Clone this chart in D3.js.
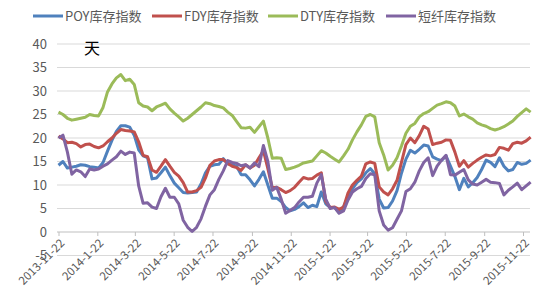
<!DOCTYPE html>
<html>
<head>
<meta charset="utf-8">
<script src="https://d3js.org/d3.v7.min.js"></script>
<style>
  body { margin: 0; background: #fff; }
  text { font-family: "Noto Sans CJK SC", "Noto Sans", sans-serif; fill: #595959; }
</style>
</head>
<body>
<svg width="550" height="300"></svg>
<script>
// weekly data, first week 2013-11-22
var startDate = "2013-11-22";
var tickLabels = ["2013-11-22","2014-1-22","2014-3-22","2014-5-22","2014-7-22","2014-9-22",
  "2014-11-22","2015-1-22","2015-3-22","2015-5-22","2015-7-22","2015-9-22","2015-11-22"];
var yTicks = [-5,0,5,10,15,20,25,30,35,40];

var seriesNames = ["POY库存指数","FDY库存指数","DTY库存指数","短纤库存指数"];
var colors = ["#4f81bd","#c0504d","#9bbb59","#8064a2"];

var poy = [14.2,15,13.6,13.8,14,14.3,14.2,13.9,13.8,13.6,14.8,17.2,19.5,21.4,22.6,22.6,22.3,20.6,17.5,16.2,
  15.8,11.3,11.5,12.6,13.8,12,10.4,9.4,8.4,8.3,8.4,8.5,10.2,12.6,14,14.3,14.4,15.6,14.5,14.3,
  14,12.2,12.2,11.1,9.8,11.2,12.8,10,7.2,7.2,6.5,5.2,4.5,4.8,5.4,6.2,5.2,5.7,5.4,8.5,
  6,5.2,5.2,4.1,5.4,7.5,9.2,10.5,11.3,12.6,13.5,12.4,7,5.1,5.2,6.6,8.8,12.5,15.5,17.4,
  16.8,17.6,18.5,18.3,16,15.5,15.2,16.2,14,11.8,9,11.4,9.6,10.5,11.6,13.3,15.3,14.8,13.9,15.8,
  14,13,13.3,14.8,14.4,14.6,15.3];
var fdy = [20.4,19.8,19,19.1,18.8,18.1,18.6,18.7,18.2,17.9,18.3,19.2,20,21,21.8,21.6,21.5,21.3,19.2,16.3,
  16,13.2,12.7,14,15.4,14,12.7,11.9,10.5,8.5,8.5,8.8,9.5,11.5,14.2,15.1,15.4,15.4,14.6,14,
  13.7,13.1,14.3,13.6,14.2,15.8,17.3,13.5,9.4,9.5,9,8.4,8.8,9.5,10.6,11.6,11.3,11.4,12.1,12.6,
  6.5,5.2,5.3,4.8,5.3,8.3,10,11,11.9,14.5,14.9,14.6,9.6,8.5,7.9,9.2,11,14.8,18.6,20,
  19,20.5,22.5,21.9,18.6,18.9,19.1,19.6,19.5,17,14,15.2,13.8,14.6,15.3,15.9,16.4,16.2,16.5,18,
  17.8,17.4,18.8,19.1,18.9,19.4,20.2];
var dty = [25.5,25,24.2,23.8,24,24.2,24.4,25,24.8,24.7,26.5,29.8,31.5,32.8,33.5,32.2,32.5,31.4,27.5,26.8,
  26.6,25.8,26.6,27,27.4,26.2,25.3,24.5,23.6,24.2,25,25.8,26.6,27.5,27.3,26.9,26.7,26.4,25.5,24.8,
  23.5,22.2,22.1,22.3,21.2,22.4,23.6,20,15.7,15.8,15.7,13.3,13.5,13.8,14.2,14.7,14.9,15.1,16.2,17.3,
  16.8,16.1,15.5,14.9,16.2,17.6,19.6,21.3,22.8,24.6,25,24.5,19,16.4,13.2,14.2,15.8,18.3,21,22.5,
  23.1,24.5,25.2,25.6,26.3,27,27.3,27.7,27.5,26.8,24.7,25.1,24.5,24,23.2,22.8,22.5,22,21.7,22,
  22.4,23,23.6,24.6,25.4,26.2,25.5];
var psf = [20,20.6,17,12.3,13.2,12.8,11.8,13.4,13.2,13.4,14,14.5,15.3,16,17.2,16.5,17,16.8,9.8,6.1,
  6.2,5.3,5,7.5,9.3,7.4,7.4,6,2.5,1,0.1,1,2.8,5.5,7.9,9,11.2,13,15.2,14.8,
  14.6,14.1,14.3,13.6,14.7,13.9,18.4,15,8.9,9.5,7,4,4.6,5.2,6.4,7.4,7.4,7.6,10.4,12.2,
  7,5,5.2,4,4.5,6.8,8.5,9.2,9.7,11.4,12.4,12.2,4.5,1.5,0.4,0.9,2.7,4.5,8.6,9.2,
  10.6,13,14.8,15.8,12,14,15.3,16.3,12.2,12.1,12.7,13.3,11.1,10.2,10,10.6,11.2,10.6,10.5,10.3,
  7.9,8.9,9.6,10.4,9,9.8,10.6];

var series = [poy, fdy, dty, psf];

var parse = d3.timeParse("%Y-%m-%d");
var t0 = parse(startDate);
var dates = poy.map(function(d, i){ return d3.timeDay.offset(t0, 7 * i); });
var tickDates = tickLabels.map(function(s){ return parse(s); });

var svg = d3.select("svg");
var x = d3.scaleTime().domain([tickDates[0], tickDates[tickDates.length - 1]]).range([58.5, 523]);
var y = d3.scaleLinear().domain([-5, 40]).range([255.5, 44]);

// gridlines
svg.append("g").selectAll("line").data(yTicks.filter(function(v){ return v !== 0; })).enter().append("line")
  .attr("x1", 57).attr("x2", 530)
  .attr("y1", function(d){ return y(d); }).attr("y2", function(d){ return y(d); })
  .attr("stroke", "#d9d9d9").attr("stroke-width", 1);

// y axis labels
svg.append("g").selectAll("text").data(yTicks).enter().append("text")
  .attr("x", 47).attr("y", function(d){ return y(d); })
  .attr("dy", "0.35em").attr("text-anchor", "end")
  .style("font-size", "13px")
  .text(function(d){ return d; });

// x axis at 0
var xAxis = d3.axisBottom(x).tickValues(tickDates).tickSize(4).tickFormat("");
var gx = svg.append("g").attr("transform", "translate(0," + y(0) + ")").call(xAxis);
gx.select(".domain").attr("stroke", "#bfbfbf").attr("d", "M57,0H530");
gx.selectAll(".tick line").attr("stroke", "#bfbfbf");

svg.append("g").selectAll("text").data(tickDates).enter().append("text")
  .attr("transform", function(d, i){ return "translate(" + (x(d) + 4) + "," + (y(0) + 9) + ") rotate(-45)"; })
  .attr("text-anchor", "end").attr("dy", "0.35em")
  .style("font-size", "11.5px")
  .text(function(d, i){ return tickLabels[i]; });

// lines
var line = d3.line()
  .x(function(d, i){ return x(dates[i]); })
  .y(function(d){ return y(d); });

svg.append("g").selectAll("path").data(series).enter().append("path")
  .attr("d", line)
  .attr("fill", "none")
  .attr("stroke", function(d, i){ return colors[i]; })
  .attr("stroke-width", 3)
  .attr("stroke-linejoin", "round");

// unit label
svg.append("text").attr("x", 84).attr("y", 54)
  .style("font-size", "16px").style("fill", "#000")
  .text("天");

// legend
var legendX = [33, 152, 268, 386];
var lg = svg.append("g").selectAll("g").data(seriesNames).enter().append("g")
  .attr("transform", function(d, i){ return "translate(" + legendX[i] + ",16)"; });
lg.append("line").attr("x1", 0).attr("x2", 30).attr("y1", 0).attr("y2", 0)
  .attr("stroke", function(d, i){ return colors[i]; }).attr("stroke-width", 3);
lg.append("text").attr("x", 32).attr("dy", "0.35em")
  .style("font-size", "13px")
  .text(function(d){ return d; });
</script>
</body>
</html>
